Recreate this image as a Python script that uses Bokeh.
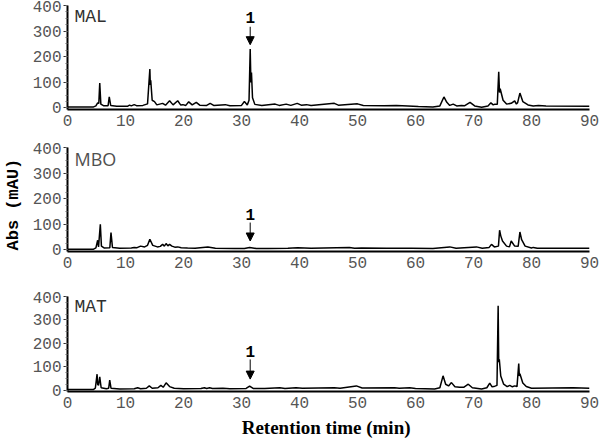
from bokeh.plotting import figure
from bokeh.layouts import column
from bokeh.models import Range1d, Label, Arrow, NormalHead, SingleIntervalTicker
from bokeh.embed import file_html
from bokeh.resources import INLINE

# ---------------- data ----------------
X_TICK_INTERVAL = 10
Y_TICK_INTERVAL = 100

MAL_TIME = [0, 4.5, 4.9, 5.2, 5.4, 5.56, 5.75, 6.2, 7.0, 7.2,
            7.45, 8.5, 10.4, 10.7, 11.0, 11.5, 11.9, 13.0, 13.8, 14.2,
            14.28, 14.35, 14.6, 15.0, 15.4, 16.4, 16.9, 17.6, 18.2, 19.0,
            19.5, 19.9, 20.4, 20.9, 21.5, 22.2, 22.8, 24.0, 24.6, 25.2,
            27.2, 28.0, 30.0, 30.5, 31.0, 31.3, 31.5, 31.62, 31.72, 31.9,
            32.3, 33.5, 35.8, 36.5, 37.7, 38.5, 39.6, 40.3, 41.2, 42.0,
            46.0, 46.7, 50.0, 51.0, 54.6, 56.7, 58.7, 60.5, 63.0, 64.2,
            64.9, 65.4, 65.9, 66.5, 67.1, 67.9, 68.5, 69.4, 70.2, 71.4,
            72.5, 73.0, 73.4, 73.7, 74.1, 74.35, 74.48, 74.6, 75.1, 75.7,
            76.5, 77.1, 77.4, 77.6, 78.0, 78.5, 79.4, 80.3, 81.2, 82.5,
            90]
MAL_ABS = [4, 4, 8, 20, 18, 97, 15, 9, 9, 43,
           10, 7, 7, 11, 8, 13, 9, 10, 16, 152,
           90, 108, 30, 25, 12, 18, 11, 28, 12, 28,
           12, 13, 10, 24, 12, 22, 11, 10, 18, 10,
           13, 9, 10, 25, 12, 30, 230, 100, 138, 40,
           14, 10, 15, 10, 15, 10, 18, 11, 13, 10,
           18, 11, 16, 10, 9, 10, 8, 6, 4, 8,
           43, 22, 10, 15, 8, 10, 9, 22, 8, 3,
           8, 20, 12, 15, 14, 141, 60, 75, 30, 15,
           18, 28, 15, 20, 58, 25, 12, 8, 10, 8,
           7]

MBO_TIME = [0, 4.5, 4.9, 5.2, 5.35, 5.66, 5.85, 6.3, 7.3, 7.5,
            7.75, 9.0, 11.0, 11.5, 12.0, 12.6, 13.3, 13.8, 14.2, 14.7,
            15.5, 16.0, 16.4, 16.7, 17.0, 17.3, 17.6, 18.0, 18.5, 19.0,
            19.6, 20.7, 22.0, 24.2, 25.5, 28.8, 30.5, 31.4, 32.5, 34.6,
            38.0, 39.7, 42.0, 48.6, 49.5, 50.7, 55.0, 59.3, 63.0, 65.9,
            67.0, 70.5, 71.5, 72.7, 73.1, 73.6, 74.3, 74.5, 74.7, 75.0,
            75.7, 76.2, 76.5, 77.1, 77.7, 78.0, 78.3, 78.9, 80.0, 80.3,
            81.0, 90]
MBO_ABS = [3, 3, 8, 38, 12, 100, 15, 8, 9, 68,
           10, 7, 8, 10, 9, 15, 12, 18, 42, 18,
           12, 14, 22, 15, 25, 16, 22, 15, 11, 12,
           9, 8, 7, 12, 7, 6, 6, 10, 6, 6,
           7, 9, 7, 10, 7, 8, 7, 7, 6, 12,
           7, 12, 7, 10, 22, 12, 15, 77, 55, 35,
           15, 12, 35, 15, 14, 70, 40, 15, 8, 10,
           7, 7]

MAT_TIME = [0, 4.5, 4.8, 5.1, 5.2, 5.35, 5.56, 5.8, 6.7, 7.1,
            7.28, 7.5, 9.0, 11.5, 12.1, 12.6, 13.6, 14.1, 14.6, 15.6,
            16.1, 16.5, 17.0, 17.6, 18.4, 20.0, 23.0, 23.6, 24.0, 24.5,
            25.0, 26.8, 28.0, 30.8, 31.4, 32.0, 34.0, 36.6, 37.5, 39.4,
            40.5, 46.0, 47.0, 49.8, 50.8, 56.4, 57.2, 59.0, 60.0, 63.3,
            64.2, 64.75, 65.2, 65.7, 66.2, 66.8, 67.6, 68.3, 69.1, 69.8,
            71.4, 72.3, 72.8, 73.2, 73.5, 74.05, 74.25, 74.35, 74.45, 74.7,
            75.2, 75.8, 76.25, 76.7, 77.1, 77.5, 77.8, 77.9, 78.0, 78.5,
            79.1, 80.0, 87.2, 90]
MAT_ABS = [3, 3, 8, 68, 25, 20, 57, 10, 6, 8,
           43, 8, 5, 6, 10, 6, 8, 18, 8, 10,
           20, 12, 31, 15, 8, 6, 7, 10, 7, 10,
           7, 8, 6, 7, 17, 7, 7, 10, 7, 10,
           8, 10, 8, 18, 9, 10, 8, 10, 7, 5,
           10, 61, 25, 18, 32, 14, 12, 12, 25, 10,
           5, 10, 30, 14, 15, 20, 360, 120, 132, 60,
           25, 15, 20, 14, 18, 15, 113, 60, 70, 30,
           15, 8, 10, 8]

SAMPLE_NAMES = ["MAL", "MBO", "MAT"]
PEAK1_TIME = 31.5
# (label y, arrow start y, arrow end y) for compound 1 in each panel
PEAK1_MARK = [(354, 317, 247), (137, 107, 35), (163, 131, 47)]

# ---------------- styling ----------------
FRAME_W = 522
MONO = "Liberation Mono"


def panel(times, absorb, name, name_font, name_color, mark, frame_h, top, bottom,
          ylabel=None, xlabel=None):
    p = figure(frame_width=FRAME_W, frame_height=frame_h,
               x_range=Range1d(0, 90), y_range=Range1d(-6, 400),
               output_backend="svg", toolbar_location=None,
               min_border_left=66, min_border_right=11,
               min_border_top=top, min_border_bottom=bottom)
    p.outline_line_color = None
    p.xgrid.visible = False
    p.ygrid.visible = False
    p.background_fill_color = "white"

    p.line(times, absorb, line_color="black", line_width=1.5)

    xa = p.xaxis[0]
    xa.ticker = SingleIntervalTicker(interval=X_TICK_INTERVAL, num_minor_ticks=0)
    xa.major_tick_out = 0
    xa.major_tick_in = 0
    xa.minor_tick_out = 0
    xa.axis_line_width = 2
    xa.axis_line_color = "black"
    xa.major_label_text_font = MONO
    xa.major_label_text_font_size = "16px"
    xa.major_label_text_color = "#555555"
    xa.major_label_standoff = 5

    ya = p.yaxis[0]
    ya.ticker = SingleIntervalTicker(interval=Y_TICK_INTERVAL, num_minor_ticks=4)
    ya.major_tick_out = 4
    ya.major_tick_in = 0
    ya.minor_tick_out = 2
    ya.minor_tick_in = 0
    ya.major_tick_line_color = "#303030"
    ya.minor_tick_line_color = "#707070"
    ya.axis_line_width = 2
    ya.axis_line_color = "black"
    ya.major_label_text_font = MONO
    ya.major_label_text_font_size = "16px"
    ya.major_label_text_color = "#555555"
    ya.major_label_standoff = 2

    if ylabel:
        ya.axis_label = ylabel
        ya.axis_label_text_font = MONO
        ya.axis_label_text_font_style = "bold"
        ya.axis_label_text_font_size = "17px"
        ya.axis_label_text_color = "black"
        ya.axis_label_standoff = 7
    if xlabel:
        xa.axis_label = xlabel
        xa.axis_label_text_font = "Liberation Serif"
        xa.axis_label_text_font_style = "bold"
        xa.axis_label_text_font_size = "19px"
        xa.axis_label_text_color = "black"
        xa.axis_label_standoff = 6

    p.add_layout(Label(x=1.2, y=355, text=name, text_font=name_font,
                       text_font_size="18px", text_color=name_color,
                       text_baseline="middle", text_align="left"))

    ly, ys, ye = mark
    p.add_layout(Label(x=PEAK1_TIME, y=ly, text="1", text_font=MONO,
                       text_font_style="bold", text_font_size="16px",
                       text_color="black", text_align="center",
                       text_baseline="middle"))
    p.add_layout(Arrow(end=NormalHead(size=8, fill_color="black", line_color="black"),
                       x_start=PEAK1_TIME, y_start=ys, x_end=PEAK1_TIME, y_end=ye,
                       line_color="black", line_width=1))
    return p


p1 = panel(MAL_TIME, MAL_ABS, SAMPLE_NAMES[0], MONO, "#303030", PEAK1_MARK[0],
           104, 5, 33)
p2 = panel(MBO_TIME, MBO_ABS, SAMPLE_NAMES[1], "Open Sans", "#505050", PEAK1_MARK[1],
           104, 5, 40, ylabel="Abs  (mAU)")
p3 = panel(MAT_TIME, MAT_ABS, SAMPLE_NAMES[2], MONO, "#303030", PEAK1_MARK[2],
           95, 5, 47, xlabel="Retention time  (min)")

layout = column(p1, p2, p3, spacing=0)

with open("out.html", "w") as f:
    f.write(file_html(layout, INLINE))
